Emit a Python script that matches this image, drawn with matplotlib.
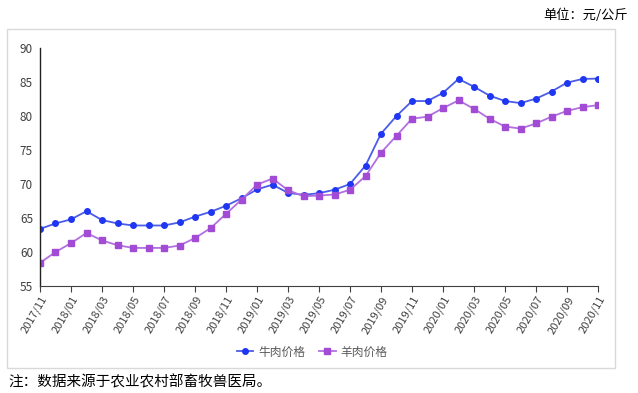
import matplotlib
matplotlib.use("Agg")
import matplotlib.pyplot as plt
from matplotlib.patches import Rectangle

plt.rcParams['font.family'] = ['Noto Sans CJK SC', 'DejaVu Sans']

months = ["2017/11", "2017/12", "2018/01", "2018/02", "2018/03", "2018/04", "2018/05", "2018/06",
          "2018/07", "2018/08", "2018/09", "2018/10", "2018/11", "2018/12", "2019/01", "2019/02",
          "2019/03", "2019/04", "2019/05", "2019/06", "2019/07", "2019/08", "2019/09", "2019/10",
          "2019/11", "2019/12", "2020/01", "2020/02", "2020/03", "2020/04", "2020/05", "2020/06",
          "2020/07", "2020/08", "2020/09", "2020/10", "2020/11"]

beef = [63.4, 64.2, 64.8, 66.0, 64.7, 64.2, 63.9, 63.9, 63.9, 64.35, 65.2, 65.9, 66.8, 67.9,
        69.2, 69.9, 68.7, 68.4, 68.65, 69.15, 70.0, 72.7, 77.4, 80.0, 82.2, 82.2, 83.4, 85.45,
        84.3, 83.0, 82.2, 81.9, 82.55, 83.6, 84.9, 85.45, 85.5]
mutton = [58.4, 60.0, 61.3, 62.8, 61.7, 61.0, 60.6, 60.6, 60.6, 60.95, 62.05, 63.5, 65.6, 67.7,
          69.9, 70.8, 69.1, 68.2, 68.3, 68.45, 69.15, 71.15, 74.6, 77.1, 79.6, 79.9, 81.15, 82.3,
          81.05, 79.6, 78.45, 78.15, 78.9, 79.9, 80.75, 81.3, 81.6]

series_names = ["牛肉价格", "羊肉价格"]
y_ticks = [55, 60, 65, 70, 75, 80, 85, 90]

W, H = 638, 393
fig = plt.figure(figsize=(W / 100, H / 100), dpi=100)

# outer light border box
fig.patches.append(Rectangle((7 / W, 1 - 368 / H), (615 - 7) / W, (368 - 29) / H,
                             transform=fig.transFigure, fill=False,
                             edgecolor="#d9d9d9", linewidth=1.0))

ax = fig.add_axes([40 / W, 1 - 286 / H, (598 - 40) / W, (286 - 48) / H])
x = list(range(len(months)))

ax.plot(x, beef, color="#4a5ce8", linewidth=1.3, marker="o", markersize=4.0,
        markerfacecolor="#1f36f2", markeredgecolor="#1f36f2", label=series_names[0])
ax.plot(x, mutton, color="#b36fe0", linewidth=1.3, marker="s", markersize=3.8,
        markerfacecolor="#a24cd6", markeredgecolor="#a24cd6", label=series_names[1])

ax.set_xlim(0, len(months) - 1)
ax.set_ylim(55, 90)
ax.set_yticks(y_ticks)
ax.set_yticklabels([str(v) for v in y_ticks], fontsize=8.5, color="#404040")
ax.tick_params(axis="y", length=0, pad=5)

ax.set_xticks(x[::2])
ax.set_xticklabels(months[::2], rotation=60, ha="right", rotation_mode="anchor",
                   fontsize=8, color="#404040")
ax.tick_params(axis="x", length=4, width=0.8, color="#404040", pad=2)

for s in ["top", "right"]:
    ax.spines[s].set_visible(False)
ax.spines["left"].set_color("#222222")
ax.spines["left"].set_linewidth(1.0)
ax.spines["bottom"].set_color("#404040")
ax.spines["bottom"].set_linewidth(0.8)

leg = fig.legend(loc="center", bbox_to_anchor=(312 / W, 1 - 352 / H), ncol=2,
                 frameon=False, fontsize=8.5, handlelength=1.4, columnspacing=1.2,
                 handletextpad=0.4)
for t in leg.get_texts():
    t.set_color("#595959")

fig.text(628 / W, 1 - 15 / H, "单位：元/公斤", ha="right", va="center", fontsize=9.5, color="#000000")
fig.text(8 / W, 1 - 382 / H, "注：数据来源于农业农村部畜牧兽医局。", ha="left", va="center",
         fontsize=10.5, color="#000000")

fig.savefig("out.png", dpi=100)
